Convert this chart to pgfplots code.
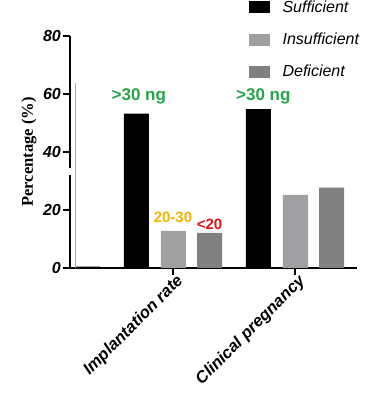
\documentclass[border=0pt]{standalone}
\usepackage{fontspec}
\setmainfont{Liberation Sans}
\newfontfamily\serifb{Liberation Serif}
\usepackage{pgfplots}
\pgfplotsset{compat=1.18}
\definecolor{suff}{RGB}{0,0,0}
\definecolor{insuff}{RGB}{160,160,162}
\definecolor{defic}{RGB}{128,128,128}
\definecolor{lblgreen}{RGB}{40,165,75}
\definecolor{lblorange}{RGB}{245,180,0}
\definecolor{lblred}{RGB}{225,20,20}
\begin{document}
\begin{tikzpicture}[x=1pt,y=1pt]
\useasboundingbox (0,0) rectangle (366,393);
\begin{axis}[
  at={(70pt,125pt)}, anchor=south west,
  scale only axis, width=287pt, height=232pt,
  xmin=0.156, xmax=2.508, ymin=0, ymax=80,
  axis lines*=left,
  axis line style={line width=2.6pt},
  every tick/.style={black, line width=2pt},
  tick align=outside,
  major tick length=7pt,
  xtick={1,2},
  xticklabels={Implantation rate, Clinical pregnancy},
  ytick={0,20,40,60,80},
  /pgf/number format/assume math mode=true,
  tick label style={font=\fontsize{16}{16}\selectfont\bfseries\itshape},
  x tick label style={rotate=45, anchor=north east, inner sep=1pt, xshift=4pt, yshift=1pt,
     font=\fontsize{16.5}{16.5}\selectfont\bfseries\itshape},
  y tick label style={inner sep=2pt},
  every axis y label/.style={at={(axis description cs:-0.143,0.5)}, anchor=center, rotate=90,
     font=\serifb\bfseries\fontsize{16.5}{16.5}\selectfont},
  ylabel={Percentage (\%)},
  clip=false,
  legend style={at={(0.611,1.165)}, anchor=north west, draw=none, fill=none,
     font=\fontsize{16}{16}\selectfont\itshape, row sep=17pt,
     nodes={inner sep=1pt}},
  legend cell align=left,
  legend image code/.code={\path[#1, draw=none] (0pt,-6pt) rectangle (21pt,6pt);\path (33pt,0pt);},
]
\addplot[ybar, bar width=0.205, bar shift=0pt, fill=suff, draw=none] coordinates {(0.70,53.2) (1.70,54.8)};
\addlegendentry{Sufficient}
\addplot[ybar, bar width=0.205, bar shift=0pt, fill=insuff, draw=none] coordinates {(1.004,12.8) (2.004,25.2)};
\addlegendentry{Insufficient}
\addplot[ybar, bar width=0.205, bar shift=0pt, fill=defic, draw=none] coordinates {(1.30,12.1) (2.30,27.7)};
\addlegendentry{Deficient}
\draw[gray!70, line width=1pt] (axis cs:0.197,0) -- (axis cs:0.197,63.8);
\draw[gray!70, line width=1pt] (axis cs:0.197,0.6) -- (axis cs:0.40,0.6);
\node[text=lblgreen, font=\fontsize{17}{17}\selectfont\bfseries] at (axis cs:0.72,59.3) {>30 ng};
\node[text=lblgreen, font=\fontsize{17}{17}\selectfont\bfseries] at (axis cs:1.74,59.3) {>30 ng};
\node[text=lblorange, font=\fontsize{15}{15}\selectfont\bfseries] at (axis cs:1.0,17.6) {20-30};
\node[text=lblred, font=\fontsize{15}{15}\selectfont\bfseries] at (axis cs:1.30,15.2) {<20};
\end{axis}
\fill[white] (66,218) rectangle (75,225);
\end{tikzpicture}
\end{document}
